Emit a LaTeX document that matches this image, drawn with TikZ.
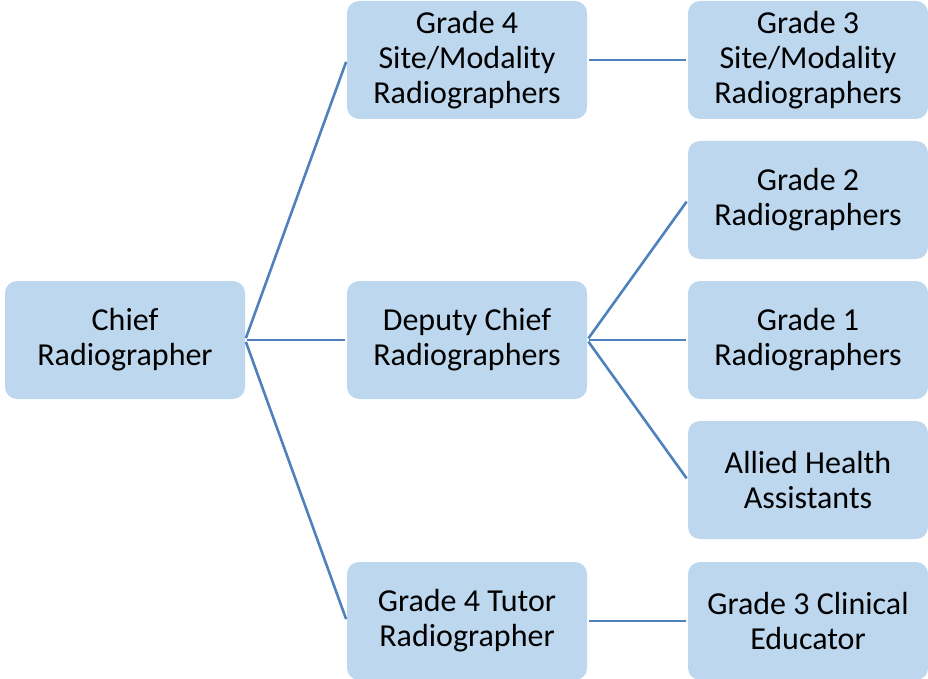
\documentclass[tikz,border=0pt]{standalone}
\usepackage{fontspec}
\setmainfont{Carlito}
\definecolor{boxblue}{HTML}{BDD7EE}
\definecolor{lineblue}{HTML}{4F81BD}
\tikzset{
	rolebox/.style={fill=boxblue, rounded corners=12pt, minimum width=240pt, minimum height=118pt, align=center, inner sep=0pt, font=\fontsize{32}{35}\selectfont},
	link/.style={draw=lineblue, line width=2.6pt, shorten <=2pt, shorten >=2pt}
}
\begin{document}
\begin{tikzpicture}[x=1pt, y=-1pt]
		\useasboundingbox (0,0) rectangle (928,679);
		\node[rolebox] (chief) at (125,340) {Chief\\Radiographer};
		\node[rolebox] (siteG4) at (467,60) {Grade 4\\Site/Modality\\Radiographers};
		\node[rolebox] (deputy) at (467,340) {Deputy Chief\\Radiographers};
		\node[rolebox] (tutor) at (467,621) {Grade 4 Tutor\\Radiographer};
		\node[rolebox] (siteG3) at (808,60) {Grade 3\\Site/Modality\\Radiographers};
		\node[rolebox] (gradeTwo) at (808,200) {Grade 2\\Radiographers};
		\node[rolebox] (gradeOne) at (808,340) {Grade 1\\Radiographers};
		\node[rolebox] (allied) at (808,480) {Allied Health\\Assistants};
		\node[rolebox] (educator) at (808,621) {Grade 3 Clinical\\Educator};
		\draw[link] (chief.east) -- (siteG4.west);
		\draw[link] (chief.east) -- (deputy.west);
		\draw[link] (chief.east) -- (tutor.west);
		\draw[link] (siteG4.east) -- (siteG3.west);
		\draw[link] (deputy.east) -- (gradeTwo.west);
		\draw[link] (deputy.east) -- (gradeOne.west);
		\draw[link] (deputy.east) -- (allied.west);
		\draw[link] (tutor.east) -- (educator.west);
	\end{tikzpicture}
\end{document}
